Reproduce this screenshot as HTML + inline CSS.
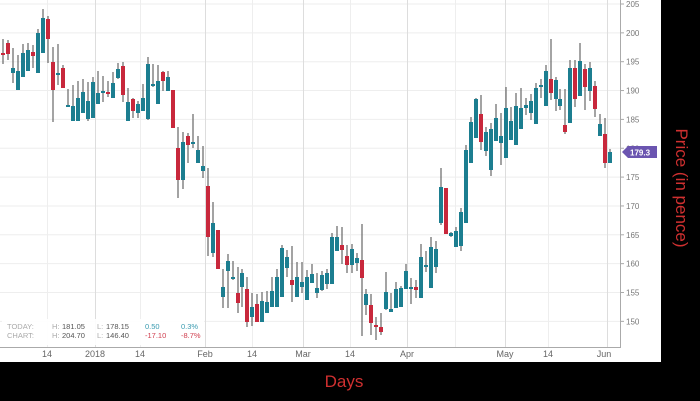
<!DOCTYPE html>
<html><head><meta charset="utf-8"><style>
html,body{margin:0;padding:0;background:#000;}
body{width:700px;height:401px;overflow:hidden;position:relative;font-family:"Liberation Sans",sans-serif;}
</style></head><body>
<svg id="s" width="700" height="401" viewBox="0 0 700 401" xmlns="http://www.w3.org/2000/svg" style="position:absolute;left:0;top:0">
<rect x="0" y="0" width="700" height="401" fill="#000"/>
<rect x="0" y="0" width="661" height="362" fill="#fff"/>
<g id="grid"></g>
<g id="candles"></g>
<line x1="620.5" y1="0" x2="620.5" y2="348" stroke="#aaa" stroke-width="1"/>
<line x1="0" y1="347.5" x2="620" y2="347.5" stroke="#aaa" stroke-width="1"/>
<g id="ylab" font-size="8" fill="#777" font-family="Liberation Sans, sans-serif"></g>
<g font-size="9" fill="#666" text-anchor="middle" font-family="Liberation Sans, sans-serif">
<text x="47" y="357">14</text><text x="95" y="357">2018</text><text x="140" y="357">14</text>
<text x="205" y="357">Feb</text><text x="252" y="357">14</text><text x="303" y="357">Mar</text>
<text x="350" y="357">14</text><text x="407" y="357">Apr</text><text x="505" y="357">May</text>
<text x="548" y="357">14</text><text x="604" y="357">Jun</text>
</g>
<rect x="2" y="319" width="202" height="26" fill="#fff" opacity="0.9"/>
<g font-size="7.5" font-family="Liberation Sans, sans-serif">
<text x="7" y="329" fill="#aaa">TODAY:</text><text x="52" y="329" fill="#aaa">H:</text><text x="62" y="329" fill="#555">181.05</text>
<text x="97" y="329" fill="#aaa">L:</text><text x="106" y="329" fill="#555">178.15</text>
<text x="145" y="329" fill="#3a9bb0">0.50</text><text x="181" y="329" fill="#3a9bb0">0.3%</text>
<text x="7" y="338" fill="#aaa">CHART:</text><text x="52" y="338" fill="#aaa">H:</text><text x="62" y="338" fill="#555">204.70</text>
<text x="97" y="338" fill="#aaa">L:</text><text x="106" y="338" fill="#555">146.40</text>
<text x="145" y="338" fill="#d04050">-17.10</text><text x="181" y="338" fill="#d04050">-8.7%</text>
</g>
<polygon points="622,152 628,146 657,146 657,158 628,158" fill="#6b55b0"/>
<text x="630" y="155.5" font-size="8" font-weight="bold" fill="#fff" font-family="Liberation Sans, sans-serif">179.3</text>
<text x="344" y="387" font-size="17" fill="#d03030" text-anchor="middle" font-family="Liberation Sans, sans-serif">Days</text>
<text transform="translate(676,188) rotate(90)" font-size="17" fill="#d03030" text-anchor="middle" font-family="Liberation Sans, sans-serif">Price (in pence)</text>
</svg>
<script>
var NS="http://www.w3.org/2000/svg";
function el(p,t,a){var e=document.createElementNS(NS,t);for(var k in a)e.setAttribute(k,a[k]);p.appendChild(e);return e;}
var g=document.getElementById('grid'),yl=document.getElementById('ylab');
for(var p=150;p<=205;p+=5){var y=4+(205-p)*5.77;el(g,'line',{x1:0,x2:620,y1:y,y2:y,stroke:'#eee','stroke-width':1});
el(g,'line',{x1:620,x2:624,y1:y,y2:y,stroke:'#aaa','stroke-width':1});
var t=el(yl,'text',{x:626,y:y+3});t.textContent=p;}
[[47,'#eee'],[95,'#ddd'],[140,'#eee'],[205,'#ddd'],[252,'#eee'],[303,'#ddd'],[350,'#eee'],[407,'#ddd'],[455,'#eee'],[505,'#ddd'],[548,'#eee'],[607,'#ddd']].forEach(function(v){el(g,'line',{x1:v[0]+.5,x2:v[0]+.5,y1:0,y2:347,stroke:v[1],'stroke-width':1});});
var d=[
[2,39,64,53,55,'r'],[7,40,60,43,54,'r'],[12,48,83,68,73,'g'],[17,55,90,71,90,'g'],[22,44,77,53,77,'g'],[27,43,71,50,71,'g'],[32,45,68,52,56,'r'],[37,29,73,33,73,'g'],[42,9,53,18,53,'g'],[47,16,63,19,39,'r'],[52,47,122,62,90,'r'],[57,44,85,73,75,'g'],[62,65,88,68,88,'r'],[67,89,107,105,107,'g'],[72,85,121,106,121,'g'],[77,81,121,98,121,'g'],[82,79,113,92,113,'g'],[87,82,121,101,119,'g'],[92,77,118,82,118,'g'],[97,71,104,93,104,'g'],[102,76,102,91,93,'g'],[107,81,97,92,94,'r'],[112,72,98,83,98,'g'],[117,63,79,69,78,'g'],[122,62,102,66,95,'r'],[127,88,121,102,121,'g'],[132,98,118,99,111,'r'],[137,101,118,104,113,'g'],[142,84,111,98,111,'g'],[147,57,120,64,119,'g'],[152,64,87,84,86,'g'],[157,65,104,81,104,'g'],[162,71,91,72,81,'r'],[167,71,91,77,91,'g'],[172,90,128,90,128,'r'],
[177,127,198,148,180,'r'],[182,132,189,142,180,'g'],[187,133,163,136,145,'r'],[192,114,148,142,143,'g'],[197,136,163,150,163,'g'],[202,146,178,166,171,'g'],[207,168,256,186,237,'r'],[212,202,257,223,253,'g'],[217,230,269,230,269,'r'],[222,269,308,287,297,'g'],[227,254,308,261,271,'g'],[232,261,280,277,279,'g'],[237,267,313,293,303,'r'],[241,269,307,273,287,'g'],[246,277,327,289,322,'r'],[251,293,326,307,317,'g'],[256,294,322,304,322,'r'],[261,292,322,301,322,'g'],[266,291,313,302,313,'g'],[271,277,307,291,307,'g'],[276,269,307,277,307,'g'],[281,245,297,248,297,'g'],[286,250,277,257,268,'g'],[291,246,302,280,285,'r'],[296,262,297,277,297,'g'],[301,262,293,282,287,'g'],[306,270,300,277,300,'g'],[311,264,283,274,283,'g'],[316,273,298,288,293,'g'],[321,271,291,275,290,'g'],[326,269,289,273,284,'g'],[331,233,284,237,284,'g'],[336,226,251,237,251,'g'],[341,227,264,245,250,'r'],[346,245,273,256,265,'r'],[351,244,273,249,265,'g'],[356,253,271,258,263,'g'],
[361,224,336,260,278,'r'],[365,289,315,294,305,'g'],[370,294,335,305,323,'r'],[375,317,340,325,327,'r'],[380,313,335,327,332,'r'],[385,272,310,292,309,'g'],[390,293,312,309,312,'g'],[395,282,308,289,308,'g'],[400,286,307,288,307,'g'],[405,264,289,271,289,'g'],[410,278,304,287,288,'g'],[415,280,298,287,290,'r'],[420,244,298,257,298,'g'],[425,251,272,265,267,'g'],[430,237,288,247,288,'g'],[435,241,273,249,267,'g'],[440,168,225,187,223,'g'],[445,188,234,188,234,'r'],[450,232,237,233,236,'g'],[455,227,247,231,247,'g'],[460,208,251,212,246,'g'],[465,145,223,150,223,'g'],[470,117,163,122,163,'g'],[475,98,138,99,138,'g'],[480,95,150,114,142,'r'],[485,127,156,132,151,'g'],[490,123,176,129,170,'g'],[495,104,141,118,141,'g'],[500,113,165,136,143,'g'],[505,87,158,108,158,'g'],[510,107,140,121,140,'g'],[515,93,145,106,145,'g'],[520,88,129,108,129,'g'],[525,98,115,105,108,'g'],[530,94,120,101,113,'g'],[535,83,124,88,124,'g'],[540,79,98,85,87,'g'],[545,65,106,71,106,'g'],[550,39,100,79,93,'r'],[555,77,111,80,99,'g'],[559,89,110,99,106,'g'],[564,89,134,125,132,'r'],[569,60,123,68,123,'g'],[574,60,107,68,99,'r'],[579,43,96,61,96,'g'],[584,64,110,69,87,'r'],[589,62,101,68,91,'g'],[594,81,117,86,109,'r'],[599,114,136,124,136,'g'],[604,118,168,134,163,'r'],[609,149,163,152,163,'g']];
var c=document.getElementById('candles');
d.forEach(function(v){var x=v[0]+1;
el(c,'line',{x1:x,x2:x,y1:v[1],y2:v[2],stroke:'#666','stroke-width':1.2});
var h=Math.max(2,v[4]-v[3]);
el(c,'rect',{x:x-2,y:v[3],width:4,height:h,fill:v[5]=='r'?'#c8283c':'#1c7e90'});});
</script>
</body></html>
